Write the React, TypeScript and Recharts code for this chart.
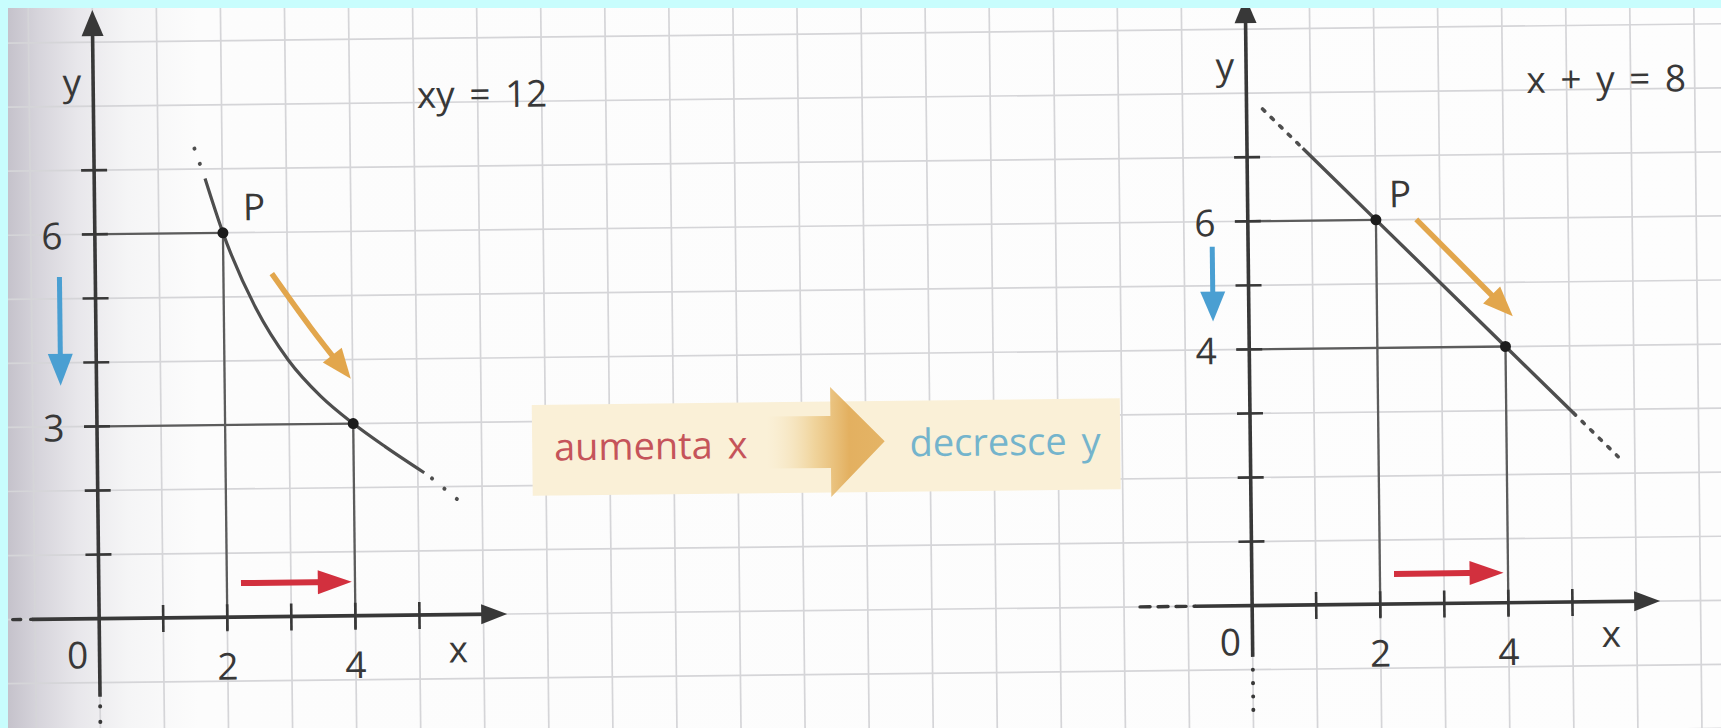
import React from "react";
import {
  ComposedChart,
  XAxis,
  YAxis,
  CartesianGrid,
  Line,
  Scatter,
  ReferenceArea,
} from "recharts";

type Pt = { x: number; y: number };
type Note = { x: number; y: number; text: string };

// one grid square is one unit on both graphs
const U = 64.06;
const X_DOMAIN: [number, number] = [-2.5, 26];
const R_DOMAIN: [number, number] = [-20.5, 8]; // right graph: origin 18 squares further right
const Y_DOMAIN: [number, number] = [-2.5, 10.5];
const TILT = -0.646; // the printed page sits slightly askew

const gridX = [-2, -1, 0, 1, 2, 3, 4, 5, 6, 7, 8, 9, 10, 11, 12, 13, 14, 15, 16, 17, 18, 19, 20, 21, 22, 23, 24, 25, 26];
const gridY = [-2, -1, 0, 1, 2, 3, 4, 5, 6, 7, 8, 9, 10];

const ticksX = [1, 2, 3, 4, 5];
const ticksY = [1, 2, 3, 4, 5, 6, 7];

// left graph: xy = 12
const hyperbola: Pt[] = [
  { x: 1.73, y: 6.85 },
  { x: 2, y: 6 },
  { x: 2.5, y: 4.82 },
  { x: 3, y: 4 },
  { x: 3.5, y: 3.43 },
  { x: 4, y: 3 },
  { x: 4.5, y: 2.63 },
  { x: 5.1, y: 2.22 },
];
const hyperbolaTop: Pt[] = [
  { x: 1.57, y: 7.32 },
  { x: 1.73, y: 6.85 },
];
const hyperbolaEnd: Pt[] = [
  { x: 5.22, y: 2.13 },
  { x: 5.61, y: 1.8 },
];
const hyperbolaPoints: Pt[] = [
  { x: 2, y: 6 },
  { x: 4, y: 3 },
];

// right graph: x + y = 8
const straight: Pt[] = [
  { x: 0.87, y: 7.13 },
  { x: 2, y: 6 },
  { x: 4, y: 4 },
  { x: 5.05, y: 2.95 },
];
const straightTop: Pt[] = [
  { x: 0.25, y: 7.75 },
  { x: 0.87, y: 7.13 },
];
const straightEnd: Pt[] = [
  { x: 5.05, y: 2.95 },
  { x: 5.74, y: 2.26 },
];
const straightPoints: Pt[] = [
  { x: 2, y: 6 },
  { x: 4, y: 4 },
];

// axes
const leftAxisX: Pt[] = [{ x: -1.05, y: 0 }, { x: 6.37, y: 0 }];
const leftAxisXDash: Pt[] = [{ x: -1.35, y: 0 }, { x: -1.05, y: 0 }];
const leftAxisY: Pt[] = [{ x: 0, y: -1.22 }, { x: 0, y: 9.5 }];
const leftAxisYDots: Pt[] = [{ x: 0, y: -1.37 }, { x: 0, y: -1.75 }];
const rightAxisX: Pt[] = [{ x: -0.89, y: 0 }, { x: 6.37, y: 0 }];
const rightAxisXDash: Pt[] = [{ x: -1.75, y: 0 }, { x: -0.89, y: 0 }];
const rightAxisY: Pt[] = [{ x: 0, y: -0.8 }, { x: 0, y: 9.5 }];
const rightAxisYDots: Pt[] = [{ x: 0, y: -1.0 }, { x: 0, y: -1.75 }];

// coloured arrows
const leftBlue: Pt[] = [{ x: -0.56, y: 5.34 }, { x: -0.56, y: 3.64 }];
const leftOrange: Pt[] = [{ x: 2.755, y: 5.355 }, { x: 3.35, y: 4.51 }, { x: 3.97, y: 3.7 }];
const leftRed: Pt[] = [{ x: 2.22, y: 0.53 }, { x: 3.95, y: 0.53 }];
const rightBlue: Pt[] = [{ x: -0.56, y: 5.61 }, { x: -0.56, y: 4.44 }];
const rightOrange: Pt[] = [{ x: 2.63, y: 6.0 }, { x: 4.12, y: 4.47 }];
const rightRed: Pt[] = [{ x: 2.22, y: 0.47 }, { x: 3.93, y: 0.47 }];

const leftNotes: Note[] = [
  { x: -0.33, y: 8.4, text: "y" },
  { x: 6.07, y: 8.14, text: "xy = 12" },
  { x: 2.49, y: 6.42, text: "P" },
  { x: 5.6, y: -0.52, text: "x" },
];
const rightNotes: Note[] = [
  { x: -0.33, y: 8.45, text: "y" },
  { x: 5.62, y: 8.18, text: "x + y = 8" },
  { x: 2.38, y: 6.42, text: "P" },
  { x: 5.6, y: -0.48, text: "x" },
];

// middle banner
const bannerBox = { x1: 6.79, x2: 15.97, y1: 1.84, y2: 3.26 };
const bannerArrow: Pt[] = [{ x: 11.45, y: 2.63 }];
const bannerLeft: Note[] = [{ x: 7.13, y: 2.39, text: "aumenta x" }];
const bannerRight: Note[] = [{ x: 12.68, y: 2.39, text: "decresce y" }];

const INK = "#383838";
const CURVE = "#4e4e4e";
const THIN = "#5c5c5c";
const BLUE = "#4a9fd2";
const ORANGE = "#e2a64c";
const RED = "#d2303e";
const FONT = "'Open Sans', 'DejaVu Sans', sans-serif";

const W = (X_DOMAIN[1] - X_DOMAIN[0]) * U;
const H = (Y_DOMAIN[1] - Y_DOMAIN[0]) * U;
const OX = -X_DOMAIN[0] * U; // left origin inside the chart
const OY = Y_DOMAIN[1] * U;

function arrow(
  id: string,
  pts: Pt[],
  axis: string,
  color: string,
  width: number,
  head: number,
  headW: number,
  curved = false
) {
  const n = pts.length;
  const a = pts[n - 2];
  const b = pts[n - 1];
  const ang = Math.atan2(-(b.y - a.y), b.x - a.x);
  const c = Math.cos(ang);
  const s = Math.sin(ang);
  let len = 0;
  for (let i = 1; i < n; i++)
    len += Math.hypot(pts[i].x - pts[i - 1].x, pts[i].y - pts[i - 1].y) * U;
  const dot = (p: any) => {
    if (p.index !== n - 1) return <g key={`${id}-${p.index}`} />;
    const bx = p.cx - c * head;
    const by = p.cy - s * head;
    const hw = headW / 2;
    return (
      <polygon
        key={`${id}-${p.index}`}
        points={`${p.cx},${p.cy} ${bx - s * hw},${by + c * hw} ${bx + s * hw},${by - c * hw}`}
        fill={color}
      />
    );
  };
  return (
    <Line
      key={id}
      xAxisId={axis}
      data={pts}
      dataKey="y"
      type={curved ? "monotone" : "linear"}
      stroke={color}
      strokeWidth={width}
      strokeDasharray={`${len - head * 0.5} ${len + 50}`}
      dot={dot}
      activeDot={false}
      isAnimationActive={false}
    />
  );
}

function path(id: string, pts: Pt[], axis: string, color: string, width: number, dash?: string, curved = false) {
  return (
    <Line
      key={id}
      xAxisId={axis}
      data={pts}
      dataKey="y"
      type={curved ? "monotone" : "linear"}
      stroke={color}
      strokeWidth={width}
      strokeDasharray={dash}
      strokeLinecap={dash ? "round" : "butt"}
      dot={false}
      activeDot={false}
      isAnimationActive={false}
    />
  );
}

function texts(id: string, rows: Note[], axis: string, dx: number, dy: number, color = INK, size = 37, anchor = "middle") {
  return (
    <Scatter
      key={id}
      xAxisId={axis}
      data={rows}
      isAnimationActive={false}
      shape={(p: any) => (
        <text
          x={p.cx + dx}
          y={p.cy + dy}
          textAnchor={anchor}
          dominantBaseline={anchor === "start" ? "auto" : "central"}
          fontFamily={FONT}
          fontSize={size}
          fill={color}
          style={{ wordSpacing: 5 }}
        >
          {p.payload.text}
        </text>
      )}
    />
  );
}

function tickMarks(id: string, axis: string) {
  const xs = ticksX.map((v) => ({ x: v, y: 0 }));
  const ys = ticksY.map((v) => ({ x: 0, y: v }));
  return [
    <Scatter
      key={`${id}-x`}
      xAxisId={axis}
      data={xs}
      isAnimationActive={false}
      shape={(p: any) => (
        <line x1={p.cx} x2={p.cx} y1={p.cy - 13} y2={p.cy + 14} stroke={INK} strokeWidth={2.6} />
      )}
    />,
    <Scatter
      key={`${id}-y`}
      xAxisId={axis}
      data={ys}
      isAnimationActive={false}
      shape={(p: any) => (
        <line x1={p.cx - 13} x2={p.cx + 13} y1={p.cy} y2={p.cy} stroke={INK} strokeWidth={2.6} />
      )}
    />,
  ];
}

// drop lines from each marked point to both axes, plus the point itself
function marked(id: string, pts: Pt[], axis: string) {
  const out: React.ReactNode[] = [];
  pts.forEach((p, i) => {
    out.push(path(`${id}-h${i}`, [{ x: -0.2, y: p.y }, { x: p.x, y: p.y }], axis, THIN, 2.3));
    out.push(path(`${id}-v${i}`, [{ x: p.x, y: -0.2 }, { x: p.x, y: p.y }], axis, THIN, 2.3));
  });
  out.push(
    <Scatter
      key={`${id}-pts`}
      xAxisId={axis}
      data={pts}
      isAnimationActive={false}
      shape={(p: any) => <circle cx={p.cx} cy={p.cy} r={5.5} fill="#1c1c1c" />}
    />
  );
  // tick labels carry the coordinates of the marked points
  out.push(texts(`${id}-xl`, pts.map((p) => ({ x: p.x, y: 0, text: String(p.x) })), axis, 0, 48));
  out.push(texts(`${id}-yl`, pts.map((p) => ({ x: 0, y: p.y, text: String(p.y) })), axis, -43, 0));
  out.push(texts(`${id}-o`, [{ x: 0, y: 0, text: "0" }], axis, -22, 35));
  return out;
}

function Figure() {
  return (
    <ComposedChart width={W} height={H} margin={{ top: 0, right: 0, bottom: 0, left: 0 }}>
      <defs>
        <linearGradient id="bannerArrow" x1="0" y1="0" x2="1" y2="0">
          <stop offset="0%" stopColor="#f6e6c2" stopOpacity={0} />
          <stop offset="40%" stopColor="#efd196" stopOpacity={0.9} />
          <stop offset="70%" stopColor="#e3b060" />
          <stop offset="100%" stopColor="#e4b466" />
        </linearGradient>
      </defs>
      <XAxis xAxisId="L" type="number" dataKey="x" domain={X_DOMAIN} allowDataOverflow hide />
      <XAxis xAxisId="R" type="number" dataKey="x" domain={R_DOMAIN} allowDataOverflow hide />
      <YAxis type="number" dataKey="y" domain={Y_DOMAIN} allowDataOverflow hide />
      <CartesianGrid
        xAxisId="L"
        verticalValues={gridX}
        horizontalValues={gridY}
        stroke="#d5d5d8"
        strokeWidth={1.7}
      />

      <ReferenceArea
        xAxisId="L"
        x1={bannerBox.x1}
        x2={bannerBox.x2}
        y1={bannerBox.y1}
        y2={bannerBox.y2}
        fill="#faf0d7"
        fillOpacity={1}
        stroke="none"
      />
      <Scatter
        xAxisId="L"
        data={bannerArrow}
        isAnimationActive={false}
        shape={(p: any) => (
          <polygon
            points={`${p.cx - 64},${p.cy - 26} ${p.cx},${p.cy - 26} ${p.cx},${p.cy - 55} ${p.cx + 54},${p.cy} ${p.cx},${p.cy + 55} ${p.cx},${p.cy + 26} ${p.cx - 64},${p.cy + 26}`}
            fill="url(#bannerArrow)"
          />
        )}
      />
      {texts("ban-l", bannerLeft, "L", 0, 0, "#c5545a", 38, "start")}
      {texts("ban-r", bannerRight, "L", 0, 0, "#74b4cc", 38, "start")}

      {/* left graph */}
      {path("l-xd", leftAxisXDash, "L", INK, 3.4, "8 10")}
      {path("l-yd", leftAxisYDots, "L", INK, 4, "0.1 15.4")}
      {arrow("l-ax", leftAxisX, "L", INK, 3.6, 26, 20)}
      {arrow("l-ay", leftAxisY, "L", INK, 3.6, 26, 22)}
      {tickMarks("l-t", "L")}
      {marked("l-m", hyperbolaPoints, "L")}
      {path("l-c", hyperbola, "L", CURVE, 3.2, undefined, true)}
      {path("l-c0", hyperbolaTop, "L", CURVE, 4, "0.1 16")}
      {path("l-c1", hyperbolaEnd, "L", CURVE, 4, "0.1 16")}
      {arrow("l-b", leftBlue, "L", BLUE, 5, 32, 25)}
      {arrow("l-o", leftOrange, "L", ORANGE, 5.5, 30, 24, true)}
      {arrow("l-r", leftRed, "L", RED, 6, 34, 24)}
      {texts("l-n", leftNotes, "L", 0, 0)}

      {/* right graph */}
      {path("r-xd", rightAxisXDash, "R", INK, 3.4, "10 8")}
      {path("r-yd", rightAxisYDots, "R", INK, 4, "0.1 13.3")}
      {arrow("r-ax", rightAxisX, "R", INK, 3.6, 26, 20)}
      {arrow("r-ay", rightAxisY, "R", INK, 3.6, 26, 22)}
      {tickMarks("r-t", "R")}
      {marked("r-m", straightPoints, "R")}
      {path("r-c", straight, "R", CURVE, 3.4)}
      {path("r-c0", straightTop, "R", CURVE, 3.6, "3 9")}
      {path("r-c1", straightEnd, "R", CURVE, 3.6, "3 9")}
      {arrow("r-b", rightBlue, "R", BLUE, 5, 30, 25)}
      {arrow("r-o", rightOrange, "R", ORANGE, 5.5, 30, 24)}
      {arrow("r-r", rightRed, "R", RED, 6, 34, 24)}
      {texts("r-n", rightNotes, "R", 0, 0)}
    </ComposedChart>
  );
}

export default function App() {
  return (
    <div
      style={{
        position: "absolute",
        left: 0,
        top: 0,
        width: 1721,
        height: 728,
        background: "#c8fdfd",
        overflow: "hidden",
      }}
    >
      <div
        style={{
          position: "absolute",
          left: 8,
          top: 8,
          width: 1713,
          height: 720,
          overflow: "hidden",
          background:
            "linear-gradient(90deg, #c5c2cb 0px, #d6d4db 30px, #e8e7eb 70px, #f5f5f6 120px, #fcfcfc 190px, #fdfdfd 100%)",
        }}
      >
        <div
          style={{
            position: "absolute",
            left: 91 - OX,
            top: 611 - OY,
            width: W,
            height: H,
            transform: `rotate(${TILT}deg)`,
            transformOrigin: `${OX}px ${OY}px`,
          }}
        >
          <Figure />
        </div>
      </div>
    </div>
  );
}
